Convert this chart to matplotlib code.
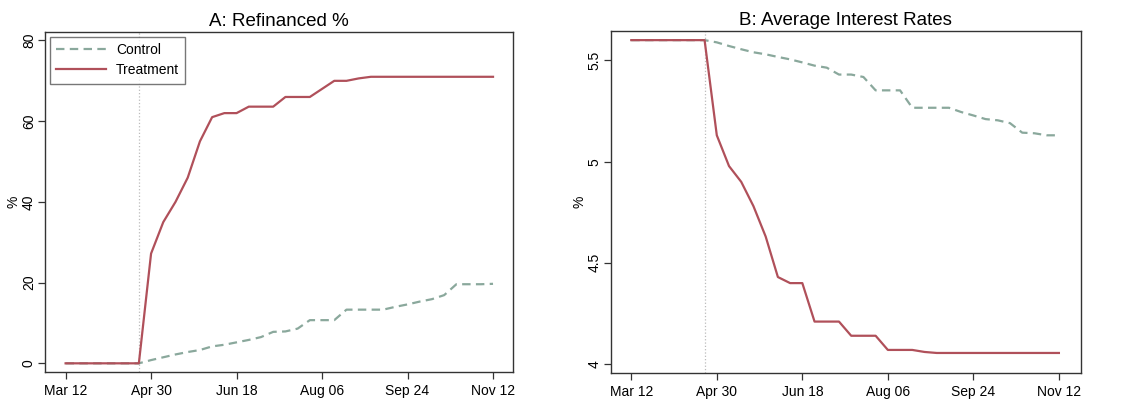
import numpy as np
import matplotlib
matplotlib.use("Agg")
from matplotlib import pyplot as plt

plt.rcParams['font.family'] = ['Liberation Sans', 'DejaVu Sans']

# weekly observations, Mar 12 .. Nov 12
weeks = np.arange(36)
tick_weeks = [0, 7, 14, 21, 28, 35]
tick_labels = ['Mar 12', 'Apr 30', 'Jun 18', 'Aug 06', 'Sep 24', 'Nov 12']
event_week = 6

refi_control = [0, 0, 0, 0, 0, 0, 0, 0.8, 1.5, 2.2, 2.8, 3.3, 4.2, 4.6, 5.2, 5.8,
                6.5, 7.8, 7.9, 8.6, 10.7, 10.7, 10.7, 13.3, 13.3, 13.3, 13.3, 14.0,
                14.6, 15.3, 15.9, 16.9, 19.6, 19.6, 19.6, 19.7]
refi_treat = [0, 0, 0, 0, 0, 0, 0, 27.2, 35, 40, 46, 55, 61, 62, 62, 63.6,
              63.6, 63.6, 66, 66, 66, 68, 70, 70, 70.6, 71, 71, 71, 71, 71,
              71, 71, 71, 71, 71, 71]

rate_control = [5.6, 5.6, 5.6, 5.6, 5.6, 5.6, 5.6, 5.589, 5.571, 5.555, 5.54, 5.53,
                5.517, 5.505, 5.49, 5.474, 5.464, 5.43, 5.43, 5.418, 5.352, 5.352,
                5.352, 5.266, 5.266, 5.266, 5.266, 5.245, 5.228, 5.21, 5.204, 5.19,
                5.143, 5.14, 5.13, 5.13]
rate_treat = [5.6, 5.6, 5.6, 5.6, 5.6, 5.6, 5.6, 5.13, 4.978, 4.90, 4.78, 4.63,
              4.43, 4.40, 4.40, 4.21, 4.21, 4.21, 4.14, 4.14, 4.14, 4.07, 4.07,
              4.07, 4.06, 4.055, 4.055, 4.055, 4.055, 4.055, 4.055, 4.055, 4.055,
              4.055, 4.055, 4.055]

c_control = '#8aa89c'
c_treat = '#b0505a'
dash = (0, (3.8, 2.4))

fig = plt.figure(figsize=(11.35, 4.04), dpi=100)
ax1 = fig.add_axes([0.0396, 0.0792, 0.412, 0.8416])
ax2 = fig.add_axes([0.538, 0.0767, 0.414, 0.8465])


def style(ax, yticks, ylim):
    ax.axvline(event_week, color='#bbbbbb', lw=0.9, ls=':', zorder=1)
    ax.set_xlim(-1.69, 36.6)
    ax.set_ylim(*ylim)
    ax.set_xticks(tick_weeks)
    ax.set_xticklabels(tick_labels, fontsize=10)
    ax.set_yticks(yticks)
    ax.set_yticklabels([f'{t:g}' for t in yticks], rotation=90, va='center', fontsize=10)
    ax.tick_params(direction='out', length=5, width=0.9, color='#333333')
    ax.tick_params(axis='y', pad=1.5)
    ax.set_ylabel('%', fontsize=10, labelpad=1)
    for s in ax.spines.values():
        s.set_linewidth(1.0)
        s.set_color('#333333')


ax1.plot(weeks, refi_control, color=c_control, lw=1.6, ls=dash, label='Control')
ax1.plot(weeks, refi_treat, color=c_treat, lw=1.6, label='Treatment')
style(ax1, [0, 20, 40, 60, 80], (-2.15, 82.1))
ax1.set_title('A: Refinanced %', fontsize=13.5, pad=4)
leg = ax1.legend(loc='upper left', fontsize=10, frameon=True, fancybox=False,
                 edgecolor='#555555', handlelength=3.6, borderaxespad=0.35,
                 handletextpad=0.7, labelspacing=0.45, borderpad=0.45)
leg.get_frame().set_linewidth(1.0)

ax2.plot(weeks, rate_control, color=c_control, lw=1.6, ls=dash)
ax2.plot(weeks, rate_treat, color=c_treat, lw=1.6)
style(ax2, [4, 4.5, 5, 5.5], (3.956, 5.645))
ax2.set_xlim(-1.69, 36.77)
ax2.set_title('B: Average Interest Rates', fontsize=13.5, pad=4)

fig.savefig('out.png', dpi=100)
